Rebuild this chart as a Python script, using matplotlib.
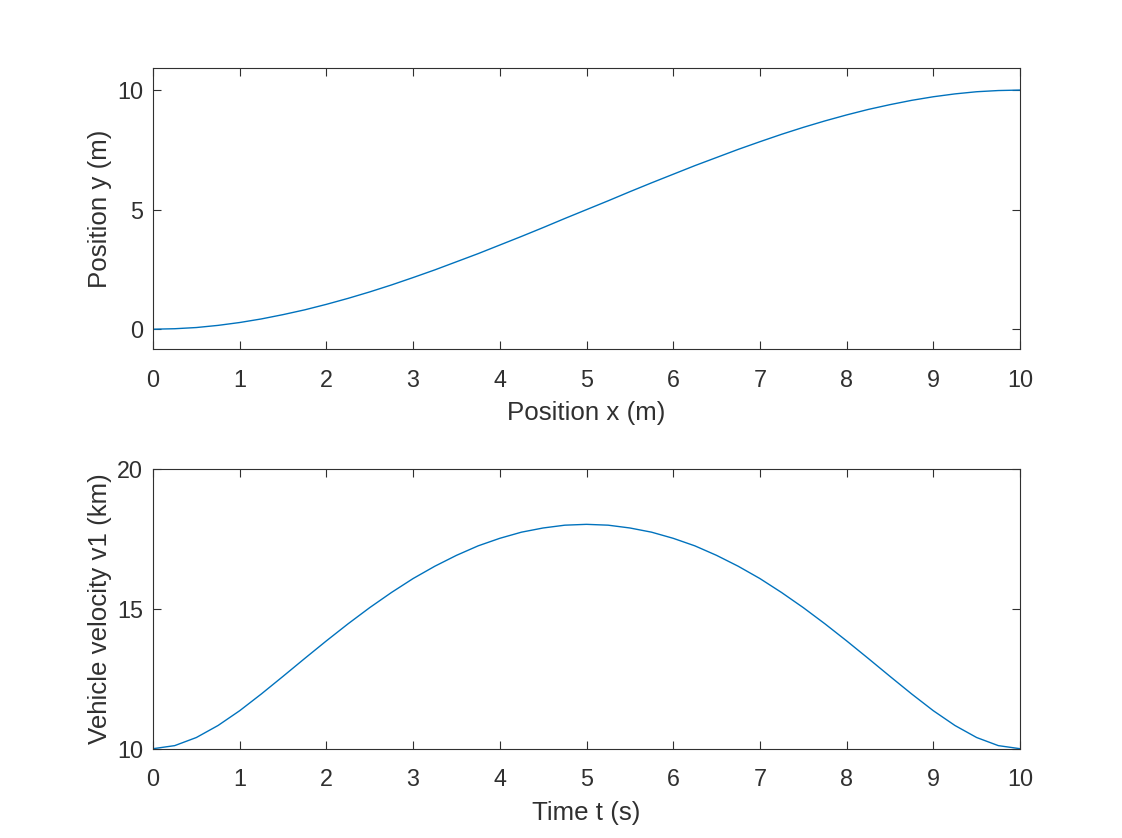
import matplotlib
matplotlib.use("Agg")
import matplotlib.pyplot as plt

# Top panel: path y vs x
pos_x = [0, 0.25, 0.5, 0.75, 1, 1.25, 1.5, 1.75, 2, 2.25, 2.5, 2.75, 3, 3.25, 3.5, 3.75, 4,
         4.25, 4.5, 4.75, 5, 5.25, 5.5, 5.75, 6, 6.25, 6.5, 6.75, 7, 7.25, 7.5, 7.75, 8,
         8.25, 8.5, 8.75, 9, 9.25, 9.5, 9.75, 10]
pos_y = [0, 0.02, 0.07, 0.16, 0.28, 0.43, 0.61, 0.81, 1.04, 1.29, 1.56, 1.85, 2.16, 2.48,
         2.82, 3.16, 3.52, 3.88, 4.25, 4.63, 5.0, 5.37, 5.75, 6.12, 6.48, 6.84, 7.18, 7.52,
         7.84, 8.15, 8.44, 8.71, 8.96, 9.19, 9.39, 9.57, 9.72, 9.84, 9.93, 9.98, 10.0]

# Bottom panel: velocity vs time
time_t = pos_x
vel_v1 = [10.0, 10.11, 10.40, 10.83, 11.36, 11.96, 12.59, 13.23, 13.86, 14.47, 15.05, 15.59,
          16.09, 16.53, 16.92, 17.26, 17.53, 17.75, 17.90, 18.00, 18.03, 18.00, 17.90, 17.75,
          17.53, 17.26, 16.92, 16.53, 16.09, 15.59, 15.05, 14.47, 13.86, 13.23, 12.59, 11.96,
          11.36, 10.83, 10.40, 10.11, 10.0]

x_ticks = list(range(0, 11))
top_yticks = [0, 5, 10]
bot_yticks = [10, 15, 20]

plt.rcParams['font.family'] = ['Liberation Sans', 'DejaVu Sans']
TXT = '#303030'
LINE = '#0072BD'
TICK_FS = 16.8
LABEL_FS = 18.6

fig = plt.figure(figsize=(11.22, 8.38), dpi=100)
fig.patch.set_facecolor('white')

ax1 = fig.add_axes([153/1122, 1-349.3/838, 867/1122, 281/838])
ax2 = fig.add_axes([153/1122, 1-748.7/838, 867/1122, 279.4/838])

ax1.plot(pos_x, pos_y, color=LINE, lw=1.0)
ax1.set_xlim(0, 10)
ax1.set_ylim(-0.84, 10.91)
ax1.set_yticks(top_yticks)
ax1.set_xlabel('Position x (m)', fontsize=LABEL_FS, color=TXT, labelpad=7)
ax1.set_ylabel('Position y (m)', fontsize=LABEL_FS, color=TXT, labelpad=4)

ax2.plot(time_t, vel_v1, color=LINE, lw=1.0)
ax2.set_xlim(0, 10)
ax2.set_ylim(10, 20)
ax2.set_yticks(bot_yticks)
ax2.set_xlabel('Time t (s)', fontsize=LABEL_FS, color=TXT, labelpad=7)
ax2.set_ylabel('Vehicle velocity v1 (km)', fontsize=LABEL_FS, color=TXT, labelpad=4)

for ax in (ax1, ax2):
    ax.set_xticks(x_ticks)
    ax.tick_params(direction='in', length=5.8, width=0.8, top=True, right=True,
                   colors=TXT, labelsize=TICK_FS)
    ax.tick_params(axis='x', pad=14)
    ax.tick_params(axis='y', pad=7)
    for sp in ax.spines.values():
        sp.set_color(TXT)
        sp.set_linewidth(0.8)
    ax.set_facecolor('white')

fig.savefig('out.png', dpi=100, facecolor='white')
